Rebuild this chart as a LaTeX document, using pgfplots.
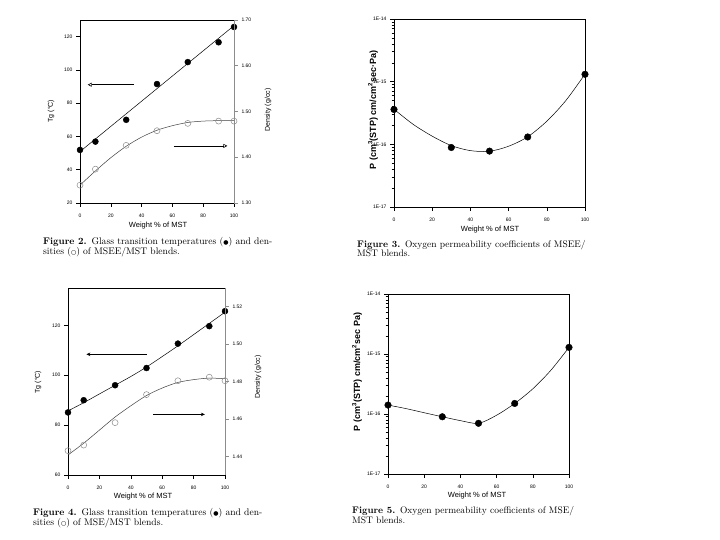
\documentclass[border=0pt]{standalone}
\usepackage{fontspec}
\usepackage{pgfplots}
\pgfplotsset{compat=1.18}
\usetikzlibrary{arrows.meta}
\newfontfamily\arial{Liberation Sans}
\newfontfamily\dejavu{DejaVu Sans}
\definecolor{axgray}{gray}{0.55}
\pgfplotsset{
  base/.style={scale only axis, anchor=south west, clip=false,
    axis line style={line width=0.8pt, black},
    tick align=outside, major tick length=4pt, minor tick length=2.5pt,
    tick style={line width=0.6pt, black},
    xtick pos=bottom, ytick pos=left,
    xmin=0, xmax=100, xtick={0,20,...,100},
    /pgf/number format/assume math mode=true,
    ticklabel style={font=\arial\fontsize{5}{6}\selectfont},
    xticklabel style={yshift=-3pt},
  },
  rightax/.style={scale only axis, anchor=south west, clip=false,
    axis x line=none, axis y line*=right,
    axis line style={line width=0.8pt, axgray},
    tick align=outside, major tick length=4pt,
    tick style={line width=0.6pt, axgray},
    xmin=0, xmax=100,
    /pgf/number format/assume math mode=true,
    ticklabel style={font=\arial\fontsize{5}{6}\selectfont},
  },
  fitline/.style={black, line width=0.5pt, mark=none},
  fitgray/.style={black!75, line width=0.5pt, mark=none},
  dots/.style={only marks, mark=*, mark size=3pt, mark options={fill=black, draw=black}},
  rings/.style={only marks, mark=o, mark size=3pt, mark options={draw=axgray, fill=white, line width=0.5pt}},
}
\newcommand\capA{\fontsize{9.6}{11}\selectfont}
\newcommand\capB{\fontsize{9.5}{11}\selectfont\addfontfeatures{LetterSpace=7.5}}
\begin{document}
\begin{tikzpicture}
\fill[white] (0,0) rectangle (720pt,540pt);
\useasboundingbox (0,0) rectangle (720pt,540pt);

% ---------------- Figure 2 (top left) ----------------
\begin{axis}[base, at={(80pt,337pt)}, width=154pt, height=183pt,
  ymin=20, ymax=130, ytick={20,40,...,120}]
\addplot[fitline] coordinates {(0,50.9) (100,126.6)};
\addplot[dots] coordinates {(0,51.9) (10,56.9) (30,70.0) (50,91.5) (70,104.7) (90,116.6) (100,125.8)};
\draw[line width=0.6pt, -{Triangle[open, length=4pt, width=4pt]}] (axis cs:35.2,91.1) -- (axis cs:5,91.1);
\draw[line width=0.6pt, -{Triangle[open, length=4pt, width=4pt]}] (axis cs:61,54.3) -- (axis cs:95.7,54.3);
\end{axis}
\begin{axis}[rightax, at={(80pt,337pt)}, width=154pt, height=183pt,
  ymin=1.30, ymax=1.70, ytick={1.30,1.40,1.50,1.60,1.70},
  yticklabels={1.30,1.40,1.50,1.60,1.70}]
\addplot[fitgray, smooth] coordinates {(0,1.339) (10,1.370) (20,1.399) (30,1.424) (40,1.444) (50,1.459) (60,1.469) (70,1.476) (80,1.479) (90,1.480) (100,1.480)};
\addplot[rings] coordinates {(0,1.339) (10,1.374) (30,1.426) (50,1.458) (70,1.474) (90,1.479) (100,1.479)};
\end{axis}
\node[font=\arial\fontsize{7}{8}\selectfont, rotate=90] at (51pt,429pt) {Tg (°C)};
\node[font=\arial\fontsize{7}{8}\selectfont, rotate=90] at (268pt,430pt) {Density (g/cc)};
\node[font=\arial\fontsize{7.5}{9}\selectfont] at (158pt,314pt) {Weight \% of MST};
\node[anchor=base west, inner sep=0, font=\capA] at (43pt,295pt) {\textbf{Figure 2.}\enspace Glass transition temperatures ({\dejavu\fontsize{6}{7}\selectfont ●}) and den-};
\node[anchor=base west, inner sep=0, font=\capA] at (43pt,285.5pt) {sities ({\dejavu\fontsize{6}{7}\selectfont ○}) of MSEE/MST blends.};

% ---------------- Figure 3 (top right) ----------------
\begin{axis}[base, ymode=log, ymin=1e-17, ymax=1e-14,
  ytick={1e-17,1e-16,1e-15,1e-14},
  yticklabels={1E-17,1E-16,1E-15,1E-14},
  minor ytick={2e-17,3e-17,4e-17,5e-17,6e-17,7e-17,8e-17,9e-17,2e-16,3e-16,4e-16,5e-16,6e-16,7e-16,8e-16,9e-16,2e-15,3e-15,4e-15,5e-15,6e-15,7e-15,8e-15,9e-15},
  at={(394pt,333pt)}, width=191pt, height=188pt]
\addplot[fitline, smooth] coordinates {(0,3.63e-16) (10,2.09e-16) (20,1.35e-16) (30,9.55e-17) (40,7.94e-17) (50,7.76e-17) (60,9.33e-17) (70,1.32e-16) (80,2.34e-16) (90,5.01e-16) (100,1.32e-15)};
\addplot[dots, mark size=3.3pt] coordinates {(0,3.6e-16) (30,8.9e-17) (50,7.8e-17) (70,1.31e-16) (100,1.31e-15)};
\end{axis}
\node[font=\arial\bfseries\fontsize{9}{10}\selectfont, rotate=90] at (373pt,430pt) {P (cm\textsuperscript{3}(STP) cm/cm\textsuperscript{2}sec·Pa)};
\node[font=\arial\fontsize{7.5}{9}\selectfont] at (490pt,310pt) {Weight \% of MST};
\node[anchor=base west, inner sep=0, font=\capB] at (357pt,292.5pt) {\textbf{Figure 3.}\enspace Oxygen permeability coefficients of MSEE/};
\node[anchor=base west, inner sep=0, font=\capB] at (357pt,283pt) {MST blends.};

% ---------------- Figure 4 (bottom left) ----------------
\begin{axis}[base, at={(68pt,65pt)}, width=157pt, height=187pt,
  ymin=60, ymax=135, ytick={60,80,100,120}]
\addplot[fitline, smooth] coordinates {(0,85.7) (10,89) (20,92.5) (30,96) (40,99.5) (50,103.3) (60,107.5) (70,111.8) (80,116.3) (90,120.8) (100,125.3)};
\addplot[dots] coordinates {(0,85.1) (10,90.0) (30,96.0) (50,102.9) (70,112.7) (90,119.7) (100,125.7)};
\draw[line width=0.6pt, -{Stealth[length=4pt, width=3.5pt]}] (axis cs:50,108.4) -- (axis cs:11.7,108.4);
\draw[line width=0.6pt, -{Stealth[length=4pt, width=3.5pt]}] (axis cs:54.3,84.3) -- (axis cs:87.2,84.3);
\end{axis}
\begin{axis}[rightax, at={(68pt,65pt)}, width=157pt, height=187pt,
  ymin=1.43, ymax=1.53, ytick={1.44,1.46,1.48,1.50,1.52},
  yticklabels={1.44,1.46,1.48,1.50,1.52}]
\addplot[fitgray, smooth] coordinates {(0,1.4407) (10,1.447) (20,1.454) (30,1.461) (40,1.467) (50,1.4725) (60,1.4765) (70,1.4795) (80,1.481) (90,1.4818) (100,1.4815)};
\addplot[rings] coordinates {(0,1.443) (10,1.446) (30,1.458) (50,1.473) (70,1.4804) (90,1.4823) (100,1.4804)};
\end{axis}
\node[font=\arial\fontsize{7}{8}\selectfont, rotate=90] at (38pt,158pt) {Tg (°C)};
\node[font=\arial\fontsize{7}{8}\selectfont, rotate=90] at (258pt,163pt) {Density (g/cc)};
\node[font=\arial\fontsize{7.5}{9}\selectfont] at (143pt,43pt) {Weight \% of MST};
\node[anchor=base west, inner sep=0, font=\capA] at (33pt,24.5pt) {\textbf{Figure 4.}\enspace Glass transition temperatures ({\dejavu\fontsize{6}{7}\selectfont ●}) and den-};
\node[anchor=base west, inner sep=0, font=\capA] at (33pt,14pt) {sities ({\dejavu\fontsize{6}{7}\selectfont ○}) of MSE/MST blends.};

% ---------------- Figure 5 (bottom right) ----------------
\begin{axis}[base, ymode=log, ymin=1e-17, ymax=1e-14,
  ytick={1e-17,1e-16,1e-15,1e-14},
  yticklabels={1E-17,1E-16,1E-15,1E-14},
  minor ytick={2e-17,3e-17,4e-17,5e-17,6e-17,7e-17,8e-17,9e-17,2e-16,3e-16,4e-16,5e-16,6e-16,7e-16,8e-16,9e-16,2e-15,3e-15,4e-15,5e-15,6e-15,7e-15,8e-15,9e-15},
  at={(388pt,66pt)}, width=181pt, height=180pt]
\addplot[fitline, smooth] coordinates {(0,1.41e-16) (10,1.23e-16) (20,1.05e-16) (30,9.0e-17) (40,7.76e-17) (50,7.0e-17) (60,9.55e-17) (70,1.5e-16) (80,2.63e-16) (90,5.37e-16) (100,1.29e-15)};
\addplot[dots, mark size=3.3pt] coordinates {(0,1.41e-16) (30,9.0e-17) (50,7.0e-17) (70,1.5e-16) (100,1.29e-15)};
\end{axis}
\node[font=\arial\bfseries\fontsize{9}{10}\selectfont, rotate=90] at (357pt,168pt) {P (cm\textsuperscript{3}(STP) cm/cm\textsuperscript{2}sec Pa)};
\node[font=\arial\fontsize{7.5}{9}\selectfont] at (477pt,44pt) {Weight \% of MST};
\node[anchor=base west, inner sep=0, font=\capB] at (352pt,26pt) {\textbf{Figure 5.}\enspace Oxygen permeability coefficients of MSE/};
\node[anchor=base west, inner sep=0, font=\capB] at (352pt,16pt) {MST blends.};
\end{tikzpicture}
\end{document}
